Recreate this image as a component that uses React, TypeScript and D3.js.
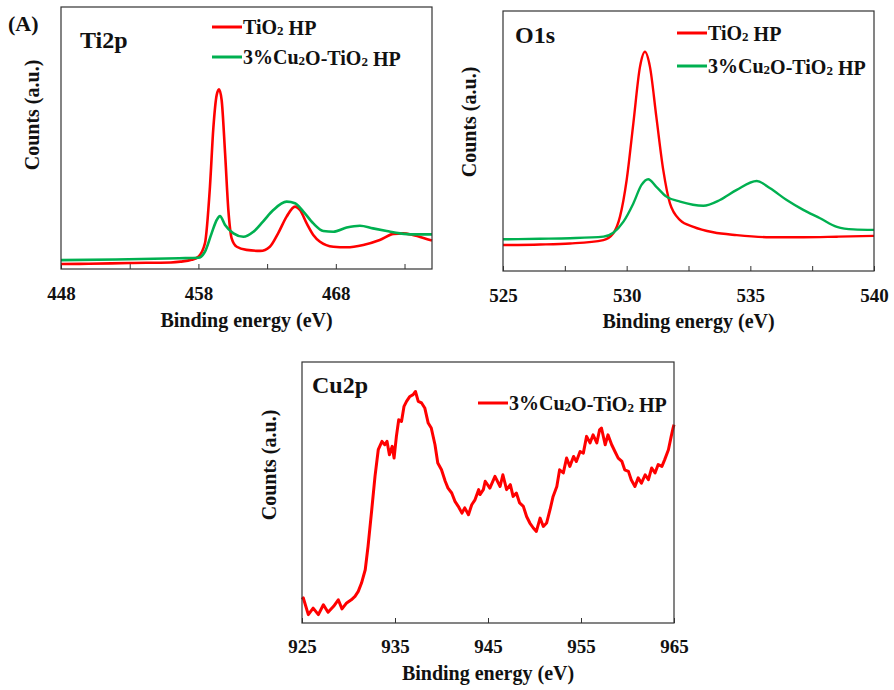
import React, { useEffect, useRef } from "react";
import * as d3 from "d3";

// binding energy (eV), counts (a.u., 0-100 of panel height)
const ti2pTiO2 = [
  [448, 1.9], [450, 2.0], [453, 2.3], [456, 2.5], [456.7, 2.8], [457.5, 3.5],
  [458.0, 4.7], [458.48, 9.9], [458.84, 31.4], [459.09, 54], [459.33, 66.4],
  [459.5, 68.6], [459.69, 64.5], [459.94, 44.3], [460.18, 22.5], [460.42, 11.7],
  [460.79, 8.5], [461.5, 7.3], [462.5, 6.9], [463.2, 8.5], [463.8, 13.6],
  [464.42, 20], [465.03, 23.8], [465.39, 22.5], [465.88, 17.4], [466.36, 13],
  [466.85, 10.4], [467.82, 8.5], [468.79, 8.3], [470, 9.2], [471.2, 11.1],
  [472.2, 13.4], [472.9, 13.6], [473.6, 13], [474.86, 11.1], [475, 10.9],
];
const ti2pCu2O = [
  [448, 3.4], [452, 3.6], [456.6, 4.1], [458.0, 4.3], [458.48, 6.6], [458.96, 13.6],
  [459.33, 18.7], [459.57, 20.2], [459.94, 16.8], [460.55, 13.6], [461.27, 12.3],
  [462, 14.2], [462.7, 18.1], [463.45, 22.5], [464.42, 25.7], [465.03, 25.1],
  [465.64, 21.9], [466.36, 17.4], [467.09, 14.5], [467.82, 14.2], [468.79, 15.8],
  [469.76, 16.5], [470.7, 15.5], [471.7, 14.5], [472.67, 13.6], [473.6, 13.2],
  [475, 13.2],
];
const o1sTiO2 = [
  [525, 10.0], [526.5, 10.2], [527.71, 10.6], [529.06, 11.9], [529.46, 14.5],
  [529.73, 20.9], [530.0, 35], [530.27, 56.8], [530.54, 78.6], [530.74, 84.3],
  [530.94, 78.6], [531.2, 59.3], [531.48, 38.8], [531.75, 26], [532.16, 19.6],
  [532.7, 17], [533.5, 14.9], [534.45, 13.8], [535.8, 13], [537.14, 13],
  [538.5, 13.2], [540, 13.5],
];
const o1sCu2O = [
  [525, 12.2], [526.5, 12.4], [527.71, 12.6], [529.06, 13.2], [529.46, 14.7],
  [529.87, 19], [530.27, 26], [530.6, 33.1], [530.87, 35.3], [531.2, 32.4],
  [531.61, 28.6], [532.16, 26.7], [533.1, 25.1], [533.77, 27.3], [534.45, 31.2],
  [535.26, 34.6], [535.8, 31.8], [536.47, 27.3], [537.14, 23.5], [537.82, 20.3],
  [538.5, 17], [539.17, 16], [540, 15.8],
];
const cu2pCu2O = [
  [925.0, 9.0], [925.14, 9.6], [925.68, 3.2], [926.2, 5.7], [926.76, 3.2], [927.3, 7],
  [927.8, 4.1], [928.4, 6.4], [928.9, 8.9], [929.3, 5.4], [929.8, 7.7], [930.3, 8.9],
  [930.7, 10.2], [931.05, 12.1], [931.4, 15.3], [931.8, 20.4], [932.1, 29.3],
  [932.5, 43.4], [932.85, 56.2], [933.2, 66.4], [933.6, 69.6], [933.9, 68.3],
  [934.14, 69.6], [934.4, 64.5], [934.7, 67.7], [934.9, 63.2], [935.15, 71.5],
  [935.4, 77.9], [935.7, 77.2], [935.97, 83], [936.24, 84.9], [936.6, 86.8],
  [936.95, 87.5], [937.2, 88.7], [937.5, 84.9], [937.86, 84.3], [938.2, 82.4],
  [938.57, 76.6], [938.9, 74.7], [939.3, 68.3], [939.6, 61.3], [940.0, 58.7],
  [940.4, 54.3], [940.7, 51.7], [941.1, 49.8], [941.45, 46.6], [941.8, 44.7],
  [942.2, 42.1], [942.5, 44.1], [942.9, 41.5], [943.25, 45.3], [943.6, 47.2],
  [944.0, 51.1], [944.14, 49.2], [944.5, 51.1], [944.7, 54.3], [945.2, 51.7],
  [945.75, 56.2], [946.3, 52.3], [946.6, 56.8], [947.0, 51.1], [947.4, 53],
  [947.7, 48.5], [948.05, 49.8], [948.4, 46], [948.8, 44.7], [949.15, 40.8],
  [949.5, 38.3], [949.87, 36.4], [950.2, 35.1], [950.6, 40.2], [950.95, 37],
  [951.3, 38.3], [951.67, 43.4], [952.0, 48.5], [952.4, 52.3], [952.7, 58.7],
  [953.1, 57.5], [953.45, 63.2], [953.8, 60], [954.2, 63.8], [954.5, 61.9],
  [954.9, 65.7], [955.25, 65.1], [955.6, 71.5], [955.97, 69], [956.3, 72.1],
  [956.7, 69], [957.0, 74], [957.2, 74.7], [957.6, 68.3], [957.9, 72.1],
  [958.3, 68.3], [958.65, 65.7], [959.0, 63.2], [959.4, 61.9], [959.7, 58.7],
  [960.1, 58.1], [960.4, 54.9], [960.8, 52.3], [961.15, 55.6], [961.5, 53.6],
  [961.9, 56.8], [962.25, 54.9], [962.6, 59.4], [962.96, 57.5], [963.3, 60.7],
  [963.7, 60], [964.0, 62.6], [964.4, 66.4], [964.7, 71.5], [964.9, 74.7], [965, 76],
];

const ti2pTicks = [448, 453, 458, 463, 468, 473];
const ti2pLabels = [448, 458, 468];
const o1sTicks = [525, 527.5, 530, 532.5, 535, 537.5, 540];
const o1sLabels = [525, 530, 535, 540];
const cu2pTicks = [925, 935, 945, 955, 965];
const cu2pLabels = [925, 935, 945, 955, 965];

const RED = "#ff0000";
const GREEN = "#00b050";
const FONT = "'Liberation Serif', 'Times New Roman', serif";

const TIO2 = [["TiO", false], ["2", true], [" HP", false]];
const CU2O = [["3%Cu", false], ["2", true], ["O-TiO", false], ["2", true], [" HP", false]];

function chem(sel, parts) {
  parts.forEach(([s, sub]) => {
    sel.append("tspan")
      .attr("font-size", sub ? 13 : null)
      .attr("dy", sub ? 1 : null)
      .text(s);
    if (sub) sel.append("tspan").attr("dy", -1).text("");
  });
}

function drawPanel(svg, p) {
  const x = d3.scaleLinear().domain(p.domain).range([p.left, p.right]);
  const y = d3.scaleLinear().domain([0, 100]).range([p.bottom, p.top]);

  const axis = svg.append("g").attr("transform", `translate(0,${p.bottom})`);
  axis.call(
    d3.axisBottom(x)
      .tickValues(p.ticks)
      .tickSizeInner(-5)
      .tickSizeOuter(0)
      .tickFormat((d) => (p.labels.includes(d) ? String(d) : ""))
  );
  axis.select(".domain").remove();
  axis.selectAll(".tick line").attr("stroke", "#333");
  axis.selectAll(".tick text")
    .attr("y", p.labelOffset)
    .attr("dy", "0")
    .attr("fill", "#111")
    .style("font-family", FONT)
    .style("font-weight", "bold")
    .style("font-size", "19px");

  const line = d3.line()
    .x((d) => x(d[0]))
    .y((d) => y(d[1]))
    .curve(p.smooth ? d3.curveMonotoneX : d3.curveLinear);

  p.series.forEach((s) => {
    svg.append("path")
      .datum(s.data)
      .attr("fill", "none")
      .attr("stroke", s.color)
      .attr("stroke-width", s.width)
      .attr("stroke-linejoin", "round")
      .attr("d", line);
  });

  svg.append("rect")
    .attr("x", p.left).attr("y", p.top)
    .attr("width", p.right - p.left).attr("height", p.bottom - p.top)
    .attr("fill", "none").attr("stroke", "#333").attr("stroke-width", 1.2);

  const txt = (tx, ty, size) =>
    svg.append("text")
      .attr("x", tx).attr("y", ty)
      .attr("fill", "#111")
      .style("font-family", FONT)
      .style("font-weight", "bold")
      .style("font-size", size + "px");

  txt((p.left + p.right) / 2, p.bottom + p.titleOffset, 20)
    .attr("text-anchor", "middle")
    .text("Binding energy (eV)");

  txt(0, 0, 20)
    .attr("text-anchor", "middle")
    .attr("transform", `translate(${p.countsX},${p.countsY}) rotate(-90)`)
    .text("Counts (a.u.)");

  txt(p.nameX, p.nameY, 24).text(p.name);

  p.series.forEach((s, i) => {
    const ly = p.legendY[i];
    svg.append("line")
      .attr("x1", p.legendX).attr("x2", p.legendX + 30)
      .attr("y1", ly).attr("y2", ly)
      .attr("stroke", s.color).attr("stroke-width", 3);
    chem(txt(p.legendX + 31, ly + 7, 20), s.label);
  });
}

export default function App() {
  const ref = useRef(null);

  useEffect(() => {
    const svg = d3.select(ref.current);
    svg.selectAll("*").remove();

    svg.append("text")
      .attr("x", 8).attr("y", 31)
      .attr("fill", "#111")
      .style("font-family", FONT)
      .style("font-weight", "bold")
      .style("font-size", "22px")
      .text("(A)");

    drawPanel(svg, {
      name: "Ti2p", nameX: 80, nameY: 48,
      left: 61, right: 432, top: 7, bottom: 269,
      domain: [448, 475], ticks: ti2pTicks, labels: ti2pLabels,
      labelOffset: 31, titleOffset: 58, countsX: 39, countsY: 115,
      legendX: 212, legendY: [27, 57], smooth: true,
      series: [
        { data: ti2pTiO2, color: RED, width: 2.6, label: TIO2 },
        { data: ti2pCu2O, color: GREEN, width: 2.6, label: CU2O },
      ],
    });

    drawPanel(svg, {
      name: "O1s", nameX: 515, nameY: 43,
      left: 503, right: 874, top: 11, bottom: 271,
      domain: [525, 540], ticks: o1sTicks, labels: o1sLabels,
      labelOffset: 31, titleOffset: 57, countsX: 476, countsY: 122,
      legendX: 677, legendY: [33, 66], smooth: true,
      series: [
        { data: o1sTiO2, color: RED, width: 2.4, label: TIO2 },
        { data: o1sCu2O, color: GREEN, width: 2.4, label: CU2O },
      ],
    });

    drawPanel(svg, {
      name: "Cu2p", nameX: 312, nameY: 393,
      left: 302, right: 674, top: 362, bottom: 623,
      domain: [925, 965], ticks: cu2pTicks, labels: cu2pLabels,
      labelOffset: 30, titleOffset: 57, countsX: 276, countsY: 465,
      legendX: 478, legendY: [403], smooth: false,
      series: [
        { data: cu2pCu2O, color: RED, width: 3, label: CU2O },
      ],
    });
  }, []);

  return (
    <svg
      ref={ref}
      width={894}
      height={690}
      style={{ position: "absolute", left: 0, top: 0, background: "#fff" }}
    />
  );
}
